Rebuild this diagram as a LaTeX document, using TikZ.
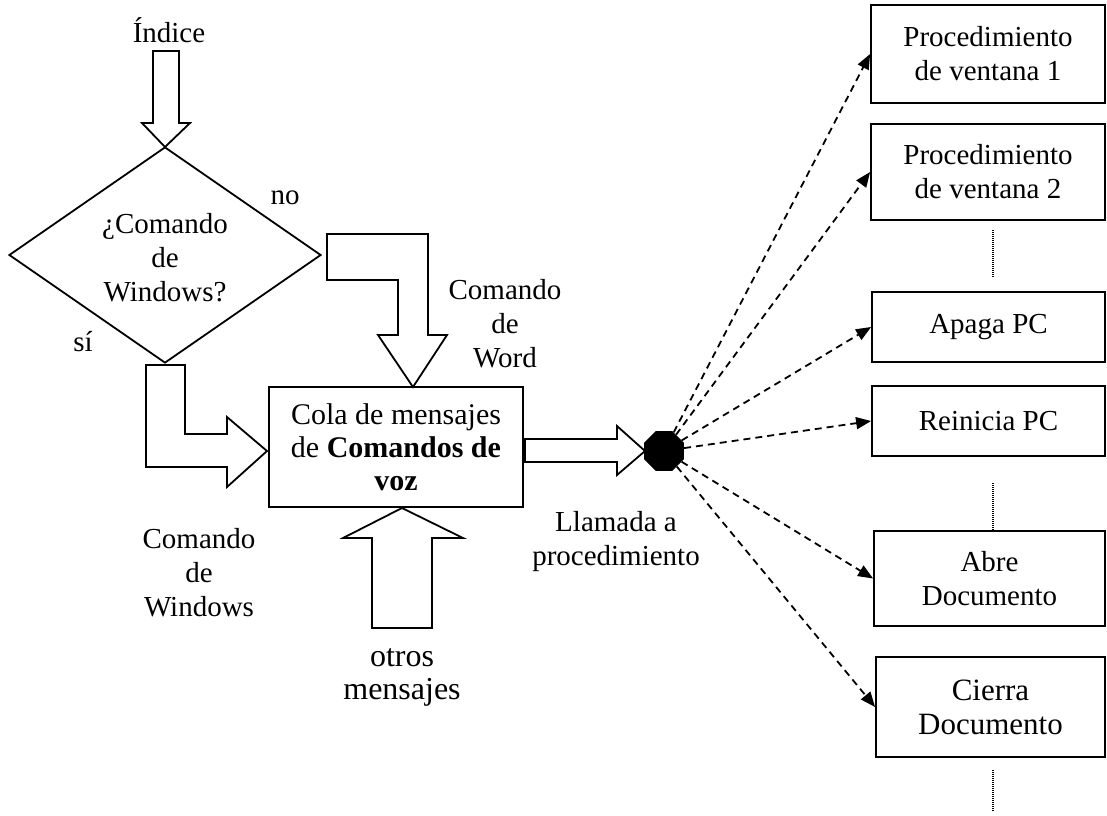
\documentclass[tikz,border=0pt]{standalone}
\usepackage{fontspec}
\setmainfont{Liberation Serif}
\usetikzlibrary{shapes.geometric,arrows.meta}
\begin{document}
\begin{tikzpicture}[x=1pt,y=-1pt,
  every node/.style={font=\fontsize{29}{34}\selectfont, align=center, inner sep=0pt},
  box/.style={draw, line width=1.8pt, inner sep=0pt},
  blk/.style={draw, line width=1.8pt, fill=white, line join=miter},
  dasharrow/.style={line width=1.8pt, dash pattern=on 7pt off 5pt, -{Triangle[length=15pt,width=12pt]}},
  dotline/.style={line width=1.3pt, dash pattern=on 1pt off 1pt}]
\useasboundingbox (0,0) rectangle (1107,815);

% labels
\node (idx) at (169,30) {Índice};
\node[draw, diamond, line width=1.8pt, minimum width=312pt, minimum height=216pt] (dec) at (165,255) {};
\node (dect) at (165,258) {¿Comando\\de\\Windows?};
\node (no) at (285,198) {no};
\node (si) at (83,342) {sí};
\node (cw) at (505,324) {Comando\\de\\Word};
\node (cwin) at (199,573) {Comando\\de\\Windows};
\node[box, minimum width=254pt, minimum height=120pt, font=\fontsize{30}{33}\selectfont] (q) at (396,447) {Cola de mensajes\\de \textbf{Comandos de}\\\textbf{voz}};
\node (ll) at (616,542) {Llamada a\\procedimiento};
\node[font=\fontsize{32}{33}\selectfont] (ot) at (402,677) {otros\\mensajes};

% block arrows
\draw[blk] (153,51) -- (179,51) -- (179,123) -- (190,123) -- (165,147) -- (142,123) -- (153,123) -- cycle;
\draw[blk] (327,234) -- (428,234) -- (428,335) -- (447,335) -- (413,387) -- (378,335) -- (398,335) -- (398,280) -- (327,280) -- cycle;
\draw[blk] (146,365) -- (185,365) -- (185,434) -- (227,434) -- (227,417) -- (267,451) -- (227,487) -- (227,467) -- (146,467) -- cycle;
\draw[blk] (372,628) -- (432,628) -- (432,538) -- (463,538) -- (402,508) -- (343,538) -- (372,538) -- cycle;
\draw[blk] (525,439) -- (617,439) -- (617,426) -- (645,451) -- (617,475) -- (617,462) -- (525,462) -- cycle;

\node[regular polygon, regular polygon sides=8, fill=black, minimum size=43pt, inner sep=0pt] (oct) at (664,451) {};

% right boxes
\node[box, minimum width=234pt, minimum height=98pt] (b1) at (988,54) {Procedimiento\\de ventana 1};
\node[box, minimum width=234pt, minimum height=96pt] (b2) at (988,172) {Procedimiento\\de ventana 2};
\node[box, minimum width=233pt, minimum height=70pt] (b3) at (988.5,327) {Apaga PC};
\node[box, minimum width=233pt, minimum height=70pt] (b4) at (988.5,421) {Reinicia PC};
\node[box, minimum width=231pt, minimum height=95pt] (b5) at (989.5,578.5) {Abre\\Documento};
\node[box, minimum width=229pt, minimum height=100pt, font=\fontsize{31}{34}\selectfont] (b6) at (990.5,707) {Cierra\\Documento};

% dashed connectors
\foreach \b in {b1,b2,b3,b4,b5,b6} \draw[dasharrow] (oct) -- (\b.west);

% dotted continuation lines
\draw[dotline] (993,230) -- (993,278);
\draw[dotline] (993,483) -- (993,531);
\draw[dotline] (993,770) -- (993,812);
\end{tikzpicture}
\end{document}
